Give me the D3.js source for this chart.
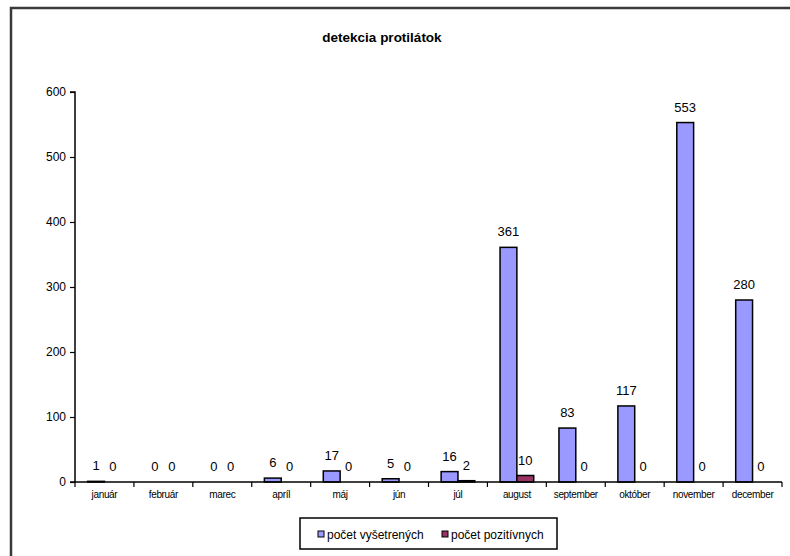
<!DOCTYPE html>
<html>
<head>
<meta charset="utf-8">
<script src="https://cdn.jsdelivr.net/npm/d3@7"></script>
<style>
  html, body { margin: 0; padding: 0; background: #fff; }
  svg { display: block; font-family: "Liberation Sans", Arial, sans-serif; }
</style>
</head>
<body>
<svg id="chart" width="790" height="556"></svg>
<script>
// Monthly antibody detection counts
const months = ["január", "február", "marec", "apríl", "máj", "jún", "júl", "august", "september", "október", "november", "december"];
const examined = [1, 0, 0, 6, 17, 5, 16, 361, 83, 117, 553, 280];
const positive = [0, 0, 0, 0, 0, 0, 2, 10, 0, 0, 0, 0];
const seriesNames = ["počet vyšetrených", "počet pozitívnych"];
const seriesColors = ["#9999FF", "#993366"];
const yTicks = [0, 100, 200, 300, 400, 500, 600];
const title = "detekcia protilátok";

const svg = d3.select("#chart");

// outer frame
svg.append("rect")
  .attr("x", 11).attr("y", 8)
  .attr("width", 820).attr("height", 600)
  .attr("fill", "none")
  .attr("stroke", "#3a3a3a")
  .attr("stroke-width", 2.5);

const plot = { left: 75, right: 782, top: 92, bottom: 482 };

const x = d3.scaleBand().domain(months).range([plot.left, plot.right]).padding(0);
const xs = d3.scaleBand().domain([0, 1]).range([0, x.bandwidth()]).paddingInner(0).paddingOuter(0.75);
const y = d3.scaleLinear().domain([0, 600]).range([plot.bottom, plot.top]);

// title
svg.append("text")
  .attr("x", 382).attr("y", 42)
  .attr("text-anchor", "middle")
  .attr("font-weight", "bold")
  .attr("font-size", 13.5)
  .attr("fill", "#000")
  .text(title);

// bars
const rows = months.map((m, i) => ({ month: m, values: [examined[i], positive[i]] }));
const groups = svg.append("g").selectAll("g").data(rows).join("g")
  .attr("transform", d => `translate(${x(d.month)},0)`);

groups.selectAll("rect")
  .data(d => d.values.map((v, k) => ({ v, k })).filter(e => e.v > 0))
  .join("rect")
  .attr("x", e => xs(e.k))
  .attr("width", xs.bandwidth())
  .attr("y", e => y(e.v))
  .attr("height", e => y(0) - y(e.v))
  .attr("fill", e => seriesColors[e.k])
  .attr("stroke", "#000")
  .attr("stroke-width", 1.5);

// value labels
groups.selectAll("text")
  .data(d => d.values.map((v, k) => ({ v, k })))
  .join("text")
  .attr("x", e => xs(e.k) + xs.bandwidth() / 2)
  .attr("y", e => y(e.v) - 11)
  .attr("text-anchor", "middle")
  .attr("font-size", 13)
  .attr("fill", "#000")
  .text(e => e.v);

// y axis
const yAxis = svg.append("g")
  .attr("transform", `translate(${plot.left},0)`)
  .call(d3.axisLeft(y).tickValues(yTicks).tickSize(5).tickPadding(4).tickFormat(d3.format("d")));
yAxis.select(".domain").attr("stroke", "#000").attr("stroke-width", 1.5).attr("d", `M-5,${plot.top}H0V${plot.bottom}`);
yAxis.selectAll(".tick line").attr("stroke", "#000").attr("stroke-width", 1.2);
yAxis.selectAll(".tick text").attr("font-size", 12).attr("fill", "#000").attr("font-family", "Liberation Sans, Arial, sans-serif");

// x axis: line, boundary ticks, category labels
const xAxis = svg.append("g");
xAxis.append("line")
  .attr("x1", plot.left - 5).attr("x2", plot.right)
  .attr("y1", y(0)).attr("y2", y(0))
  .attr("stroke", "#000").attr("stroke-width", 1.5);
const bounds = months.map(m => x(m)).concat([x(months[months.length - 1]) + x.bandwidth()]);
xAxis.selectAll("line.tk").data(bounds).join("line")
  .attr("class", "tk")
  .attr("x1", d => d).attr("x2", d => d)
  .attr("y1", y(0)).attr("y2", y(0) + 5)
  .attr("stroke", "#000").attr("stroke-width", 1.2);
xAxis.selectAll("text").data(months).join("text")
  .attr("x", d => x(d) + x.bandwidth() / 2)
  .attr("y", y(0) + 16)
  .attr("text-anchor", "middle")
  .attr("font-size", 10)
  .attr("letter-spacing", -0.35)
  .attr("fill", "#000")
  .text(d => d);

// legend
const legend = svg.append("g");
legend.append("rect")
  .attr("x", 300).attr("y", 518)
  .attr("width", 257).attr("height", 31)
  .attr("fill", "#fff").attr("stroke", "#000").attr("stroke-width", 1.5);
const legendX = [318, 442];
seriesNames.forEach((name, k) => {
  legend.append("rect")
    .attr("x", legendX[k]).attr("y", 531)
    .attr("width", 6).attr("height", 6)
    .attr("fill", seriesColors[k]).attr("stroke", "#000").attr("stroke-width", 1);
  legend.append("text")
    .attr("x", legendX[k] + 9).attr("y", 538.5)
    .attr("font-size", 12)
    .attr("fill", "#000")
    .text(name);
});
</script>
</body>
</html>
